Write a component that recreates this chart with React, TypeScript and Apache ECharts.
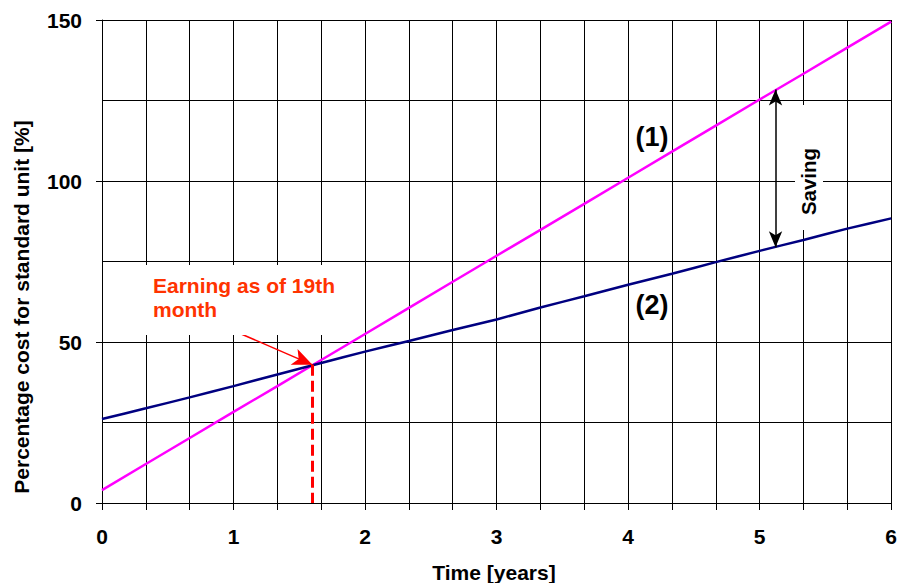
import React, { useEffect, useRef } from "react";
import * as echarts from "echarts";

// Time in months (grid every 4 months, labels in years)
const monthsX = [0, 4, 8, 12, 16, 20, 24, 28, 32, 36, 40, 44, 48, 52, 56, 60, 64, 68, 72];
// (1) conventional unit
const costLine1 = [4.0, 12.1, 20.2, 28.3, 36.3, 44.4, 52.5, 60.6, 68.7, 76.8, 84.8, 92.9, 101.0, 109.1, 117.2, 125.3, 133.3, 141.4, 149.5];
// (2) standard unit
const costLine2 = [26.1, 29.4, 32.8, 36.3, 39.9, 43.5, 47.0, 50.3, 53.7, 57.0, 60.7, 64.2, 67.8, 71.2, 74.8, 78.3, 81.7, 85.2, 88.4];
const yLabelValues = [0, 50, 100, 150];

// annotation anchor values (months, %)
const breakEven = [19.2, 42.9];
const earningArrowStart = [12.7, 52.5];
const savingTop = [61.45, 128.4];
const savingBottom = [61.45, 79.4];

const FONT = '"Liberation Sans", Arial, Helvetica, sans-serif';

export default function App() {
  const ref = useRef<HTMLDivElement>(null);
  useEffect(() => {
    const chart = echarts.init(ref.current!, null, { renderer: "svg" });
    const option: any = {
      animation: false,
      backgroundColor: "#ffffff",
      grid: { left: 102, right: 7, top: 20, bottom: 80 },
      xAxis: {
        type: "value",
        min: 0,
        max: 72,
        interval: 4,
        axisLine: { show: true, lineStyle: { color: "#000", width: 1 } },
        axisTick: { show: true, inside: false, length: 7, lineStyle: { color: "#000" } },
        axisLabel: {
          margin: 23,
          fontFamily: FONT,
          fontWeight: "bold",
          fontSize: 21,
          color: "#000",
          formatter: (v: number) => (v % 12 === 0 ? String(v / 12) : ""),
        },
        splitLine: { show: true, lineStyle: { color: "#000", width: 1 } },
      },
      yAxis: [
        {
          type: "value",
          min: 0,
          max: 150,
          interval: 50,
          position: "left",
          axisLine: { show: true, lineStyle: { color: "#000", width: 1 } },
          axisTick: { show: true, inside: false, length: 6, lineStyle: { color: "#000" } },
          axisLabel: {
            margin: 20,
            fontFamily: FONT,
            fontWeight: "bold",
            fontSize: 21,
            color: "#000",
            formatter: (v: number) => (yLabelValues.indexOf(v) >= 0 ? String(v) : ""),
          },
          splitLine: { show: false },
        },
        {
          type: "value",
          min: 0,
          max: 150,
          interval: 25,
          position: "left",
          axisLine: { show: false },
          axisTick: { show: false },
          axisLabel: { show: false },
          splitLine: { show: true, lineStyle: { color: "#000", width: 1 } },
        },
      ],
      series: [
        {
          name: "(1)",
          type: "line",
          yAxisIndex: 0,
          data: monthsX.map((m, i) => [m, costLine1[i]]),
          symbol: "none",
          clip: false,
          lineStyle: { color: "#ff00ff", width: 2.5 },
          z: 3,
          markLine: {
            silent: true,
            symbol: ["arrow", "arrow"],
            symbolSize: [10, 16],
            label: { show: false },
            lineStyle: { color: "#000", width: 1.5, type: "solid" },
            emphasis: { disabled: true },
            data: [[{ coord: savingTop }, { coord: savingBottom }]],
          },
        },
        {
          name: "(2)",
          type: "line",
          yAxisIndex: 0,
          data: monthsX.map((m, i) => [m, costLine2[i]]),
          symbol: "none",
          smooth: 0.2,
          clip: false,
          lineStyle: { color: "#000080", width: 2.5 },
          z: 4,
          markLine: {
            silent: true,
            label: { show: false },
            emphasis: { disabled: true },
            symbol: ["none", "none"],
            data: [
              [
                { coord: earningArrowStart, symbol: "none", lineStyle: { color: "#ff0000", width: 1.5, type: "solid" } },
                { coord: breakEven, symbol: "arrow", symbolSize: [13, 20] },
              ],
              [
                { coord: breakEven, symbol: "none", lineStyle: { color: "#ff0000", width: 3, type: [11, 5] } },
                { coord: [breakEven[0], 0], symbol: "none" },
              ],
            ],
          },
        },
      ],
      graphic: [
        { type: "rect", z: 50, shape: { x: 103, y: 265, width: 245, height: 70 }, style: { fill: "#fff" } },
        { type: "rect", z: 50, shape: { x: 795, y: 105, width: 28, height: 125 }, style: { fill: "#fff" } },
        {
          type: "text",
          z: 60,
          x: 153,
          y: 273,
          style: {
            text: "Earning as of 19th\nmonth",
            font: `bold 21px ${FONT}`,
            fill: "#ff3300",
            lineHeight: 24,
            textAlign: "left",
            align: "left",
            textVerticalAlign: "top",
            verticalAlign: "top",
          },
        },
        {
          type: "text",
          z: 60,
          x: 808,
          y: 181.5,
          rotation: Math.PI / 2,
          style: {
            text: "Saving",
            font: `bold 20.5px ${FONT}`,
            fill: "#000",
            textAlign: "center",
            align: "center",
            textVerticalAlign: "middle",
            verticalAlign: "middle",
          },
        },
        {
          type: "text",
          z: 60,
          x: 652,
          y: 136.5,
          style: { text: "(1)", font: `bold 27px ${FONT}`, fill: "#000", textAlign: "center", align: "center", textVerticalAlign: "middle", verticalAlign: "middle" },
        },
        {
          type: "text",
          z: 60,
          x: 652,
          y: 304.5,
          style: { text: "(2)", font: `bold 27px ${FONT}`, fill: "#000", textAlign: "center", align: "center", textVerticalAlign: "middle", verticalAlign: "middle" },
        },
        {
          type: "text",
          z: 60,
          x: 494,
          y: 572,
          style: { text: "Time [years]", font: `bold 21px ${FONT}`, fill: "#000", textAlign: "center", align: "center", textVerticalAlign: "middle", verticalAlign: "middle" },
        },
        {
          type: "text",
          z: 60,
          x: 21,
          y: 307,
          rotation: Math.PI / 2,
          style: { text: "Percentage cost for standard unit [%]", font: `bold 21px ${FONT}`, fill: "#000", textAlign: "center", align: "center", textVerticalAlign: "middle", verticalAlign: "middle" },
        },
      ],
    };
    chart.setOption(option);
    return () => chart.dispose();
  }, []);
  return <div ref={ref} style={{ position: "fixed", left: 0, top: 0, width: 900, height: 583, background: "#fff" }} />;
}
